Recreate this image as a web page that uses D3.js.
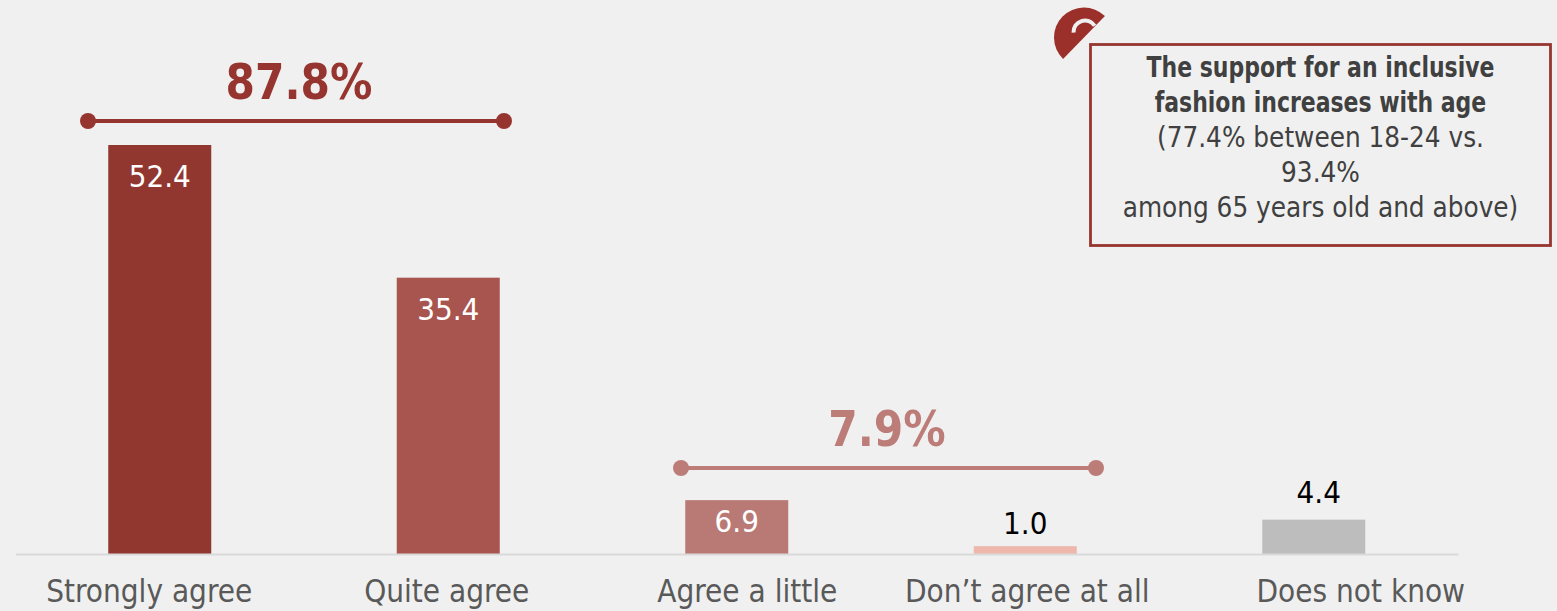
<!DOCTYPE html>
<html>
<head>
<meta charset="utf-8">
<script src="https://cdn.jsdelivr.net/npm/d3@7"></script>
<style>
  html, body { margin: 0; padding: 0; background: #f0f0f0; }
  svg { display: block; }
  text { font-family: "DejaVu Sans", sans-serif; font-stretch: condensed; }
</style>
</head>
<body>
<svg id="chart" width="1557" height="611"></svg>
<script>
// Survey answers
const categories = ["Strongly agree", "Quite agree", "Agree a little", "Don\u2019t agree at all", "Does not know"];
const values = [52.4, 35.4, 6.9, 1.0, 4.4];
const barColors = ["#913730", "#a8544f", "#b97a76", "#edb7ac", "#bdbdbd"];
const valueColors = ["#ffffff", "#ffffff", "#ffffff", "#000000", "#000000"];

// Grouped totals shown above the bars
const groupLabels = ["87.8%", "7.9%"];
const groupColors = ["#963530", "#bc7d79"];

// Callout copy
const calloutBold = ["The support for an inclusive", "fashion increases with age"];
const calloutPlain = ["(77.4% between 18-24 vs.", "93.4%", "among 65 years old and above)"];

const width = 1557, height = 611, baseY = 554;
const svg = d3.select("#chart");

svg.append("rect").attr("width", width).attr("height", height).attr("fill", "#f0f0f0");

const x = d3.scaleBand().domain(categories).range([15.5, 1458]).paddingInner(0.643).paddingOuter(0.3215);
const y = d3.scaleLinear().domain([0, 52.4]).range([baseY, 145]);

// Squeezes a text run horizontally; the installed sans is wider than the chart's face
function squeeze(sel, factor) {
  sel.each(function () {
    const el = d3.select(this);
    el.attr("lengthAdjust", "spacingAndGlyphs")
      .attr("textLength", this.getComputedTextLength() * factor);
  });
}

// Category labels sit in their own text boxes, slightly off the bar centres
const labelShift = [-10.5, -1.5, 10.5, 2, 47];
// Value label placement relative to the bar top, and the one label nudged sideways
const valueDy = [42, 42, 32, -12, -17];
const valueDx = [0, 0, 0, 0, 5];

svg.append("g").selectAll("rect").data(values).join("rect")
  .attr("x", (d, i) => x(categories[i]))
  .attr("width", x.bandwidth())
  .attr("y", d => y(d))
  .attr("height", d => baseY - y(d))
  .attr("fill", (d, i) => barColors[i]);

// Baseline and category labels
const axis = svg.append("g")
  .attr("transform", `translate(0,${baseY})`)
  .call(d3.axisBottom(x).tickSize(0).tickPadding(26));
axis.select(".domain").attr("stroke", "#d9d9d9").attr("stroke-width", 2);
axis.selectAll(".tick text")
  .attr("dx", (d, i) => labelShift[i])
  .attr("fill", "#595959")
  .style("font-family", '"DejaVu Sans", sans-serif')
  .style("font-stretch", "condensed")
  .style("font-size", "31.2px");

// Value labels: inside tall bars, above short ones
svg.append("g").selectAll("text").data(values).join("text")
  .attr("x", (d, i) => x(categories[i]) + x.bandwidth() / 2 + valueDx[i])
  .attr("y", (d, i) => y(d) + valueDy[i])
  .attr("text-anchor", "middle")
  .attr("font-size", 31)
  .attr("fill", (d, i) => valueColors[i])
  .text(d => d.toFixed(1));

// Group brackets
function bracket(x0, x1, yPos, color, label, labelX, labelY) {
  const g = svg.append("g");
  g.append("line").attr("x1", x0).attr("x2", x1).attr("y1", yPos).attr("y2", yPos)
    .attr("stroke", color).attr("stroke-width", 4);
  g.selectAll("circle").data([x0, x1]).join("circle")
    .attr("cx", d => d).attr("cy", yPos).attr("r", 8).attr("fill", color);
  g.append("text").attr("x", labelX).attr("y", labelY)
    .attr("text-anchor", "middle").attr("font-size", 49).attr("font-weight", 700)
    .attr("fill", color).text(label)
    .call(squeeze, 0.96);
}
bracket(88, 504, 121, groupColors[0], groupLabels[0], 299, 99);
bracket(681, 1096, 468, groupColors[1], groupLabels[1], 887, 446);

// Fan-shaped badge behind the callout corner
svg.append("path")
  .attr("transform", "translate(1084,37.5) rotate(-45.7)")
  .attr("d", d3.arc()({ innerRadius: 0, outerRadius: 30, startAngle: -Math.PI / 2, endAngle: Math.PI / 2 }))
  .attr("fill", "#9b2f29");
svg.append("path")
  .attr("transform", "translate(1085,32)")
  .attr("d", d3.arc()({ innerRadius: 9.5, outerRadius: 13.5, startAngle: -1.62, endAngle: 1.0 }))
  .attr("fill", "#f0f0f0");

// Callout
svg.append("rect")
  .attr("x", 1090.5).attr("y", 44.5).attr("width", 460).attr("height", 201)
  .attr("fill", "#f0f0f0").attr("stroke", "#973530").attr("stroke-width", 2.8);

const lines = calloutBold.map(t => ({ t, bold: true })).concat(calloutPlain.map(t => ({ t, bold: false })));
svg.append("g").selectAll("text").data(lines).join("text")
  .attr("x", 1320.5)
  .attr("y", (d, i) => 77 + i * 35)
  .attr("text-anchor", "middle")
  .attr("font-size", 28)
  .attr("font-weight", d => d.bold ? 700 : 400)
  .attr("fill", "#404040")
  .text(d => d.t)
  .each(function (d) {
    d3.select(this).call(squeeze, d.bold ? 0.872 : 0.985);
  });
</script>
</body>
</html>
